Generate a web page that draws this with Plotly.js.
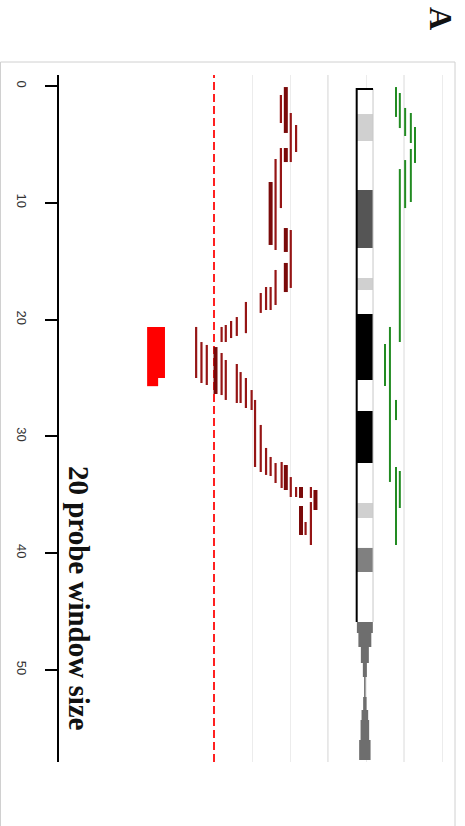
<!DOCTYPE html>
<html><head><meta charset="utf-8">
<script src="https://cdn.plot.ly/plotly-3.0.1.min.js"></script>
<style>html,body{margin:0;padding:0;background:#fff;}#chart{width:465px;height:826px;}</style>
</head><body><div id="chart"></div>
<script>
// ---- data ----
const yTicks = [0, 10, 20, 30, 40, 50];
const ratioGrid = [1, 2, 3, 4, 5, 6];

// dark red segments (thin)
const segThinX     = [1.76, 2.02, 2.16, 1.76, 1.62, 2.02, 1.62, 1.49, 1.37, 1.23, 0.84, 0.60, 0.45, 0.31, 0.20,
                      -0.47, -0.33, -0.19, 0.20, 0.31, 0.60, 0.70, 0.84, 0.99, 1.08, 1.23, 1.37, 1.49, 1.62, 1.78, 2.02, 2.16, 2.41, 2.55, 2.55];
const segThinStart = [0.77, 2.31, 3.34, 5.31, 6.25, 12.33, 15.75, 17.21, 17.21, 17.72, 18.49, 19.78, 20.12, 20.46, 20.63,
                      20.63, 21.92, 22.17, 22.86, 23.46, 23.80, 24.49, 25.00, 26.03, 26.88, 29.02, 30.99, 31.76, 32.28, 32.19, 33.48, 34.33, 37.33, 34.33, 35.62];
const segThinEnd   = [3.17, 6.51, 5.65, 10.45, 14.04, 17.29, 18.75, 19.18, 19.18, 19.43, 21.16, 21.40, 21.58, 21.92, 21.92,
                      25.00, 25.43, 25.60, 26.46, 26.88, 27.14, 27.14, 27.57, 27.74, 32.62, 33.05, 33.30, 33.39, 33.99, 34.42, 35.19, 35.19, 38.44, 35.27, 39.30];
// dark red segments (dense / thick)
const segThickX     = [1.89, 1.89, 1.49, 1.89, 1.89, 0.04, 1.89, 2.29, 2.29, 2.67];
const segThickStart = [0.09, 5.31, 8.22, 12.16, 15.15, 22.35, 32.45, 34.33, 35.96, 34.59];
const segThickEnd   = [4.02, 6.51, 13.61, 14.21, 17.64, 26.37, 34.59, 35.27, 38.44, 36.30];
// green segments
const greenX     = [4.79, 4.89, 5.03, 5.18, 5.29, 5.18, 5.03, 4.89, 4.63, 4.50, 4.79, 4.79, 4.89];
const greenStart = [0.09, 0.60, 1.88, 2.31, 3.51, 5.39, 6.34, 7.11, 20.63, 22.09, 26.88, 32.62, 32.96];
const greenEnd   = [2.65, 3.60, 4.28, 4.88, 6.59, 9.93, 10.45, 21.92, 33.90, 25.68, 28.60, 39.30, 36.13];
// ideogram bands
const bandStart = [0.26, 2.40, 4.71, 8.90, 13.87, 16.44, 17.47, 19.52, 25.17, 27.83, 32.28, 35.70, 36.99, 39.55, 41.61];
const bandEnd   = [2.40, 4.71, 8.90, 13.87, 16.44, 17.47, 19.52, 25.17, 27.83, 32.28, 35.70, 36.99, 39.55, 41.61, 45.89];
const bandStain = ['gneg','gpos25','gneg','gpos75','gneg','gpos25','gneg','gpos100','gneg','gpos100','gneg','gpos25','gneg','gpos50','gneg'];
const stalkPos  = [45.89, 46.83, 48.03, 49.40, 50.60, 52.31, 53.42, 54.28, 55.99, 57.71];
const stalkHalf = [0.21, 0.17, 0.105, 0.053, 0.02, 0.045, 0.087, 0.113, 0.15];
// peak region (20 probe window)
const peakStart = [20.63, 25.00];
const peakEnd   = [25.00, 25.70];
const peakScore = [0.47, 0.29];

// ---- styles ----
const stainColor = {gneg:'#ffffff', gpos25:'#d0d0d0', gpos50:'#808080', gpos75:'#555555', gpos100:'#000000'};
const chromX = 3.97, chromW = 0.43, peakBase = -1.76;

function segs(xs, s, e) {
  const X = [], Y = [];
  xs.forEach((x, i) => { X.push(x, x, null); Y.push(s[i], e[i], null); });
  return {x: X, y: Y};
}
const thin = segs(segThinX, segThinStart, segThinEnd);
const thick = segs(segThickX, segThickStart, segThickEnd);
const green = segs(greenX, greenStart, greenEnd);

// stalk polygon (step outline)
const sx = [], sy = [];
for (let i = 0; i < stalkHalf.length; i++) { sx.push(chromX - stalkHalf[i], chromX - stalkHalf[i]); sy.push(stalkPos[i], stalkPos[i+1]); }
for (let i = stalkHalf.length - 1; i >= 0; i--) { sx.push(chromX + stalkHalf[i], chromX + stalkHalf[i]); sy.push(stalkPos[i+1], stalkPos[i]); }

const pTop = bandStart[0], pBot = bandEnd[bandEnd.length - 1];

const traces = [
  {type:'bar', orientation:'v', x: bandStart.map(() => chromX), base: bandStart,
   y: bandStart.map((s, i) => bandEnd[i] - s), width: chromW,
   marker:{color: bandStain.map(s => stainColor[s]), line:{width:0}}, hoverinfo:'skip'},
  {type:'scatter', mode:'lines', x: sx, y: sy, fill:'toself', fillcolor:'#6e6e6e', line:{width:0}, hoverinfo:'skip'},
  {type:'scatter', mode:'lines', x:[chromX + chromW/2, chromX + chromW/2], y:[pTop, pBot], line:{color:'#c8c8c8', width:1}, hoverinfo:'skip'},
  {type:'scatter', mode:'lines', x:[chromX - chromW/2, chromX - chromW/2, chromX + chromW/2], y:[pBot, pTop, pTop], line:{color:'#000', width:2}, hoverinfo:'skip'},
  {type:'bar', orientation:'h', y: peakStart.map((s, i) => (s + peakEnd[i]) / 2), width: peakStart.map((s, i) => peakEnd[i] - s),
   x: peakScore, base: peakBase, marker:{color:'#ff0000', line:{width:0}}, hoverinfo:'skip'},
  {type:'scatter', mode:'lines', x: thin.x, y: thin.y, line:{color:'#951515', width:2.2}, connectgaps:false, hoverinfo:'skip'},
  {type:'scatter', mode:'lines', x: thick.x, y: thick.y, line:{color:'#7a0a0a', width:4}, connectgaps:false, hoverinfo:'skip'},
  {type:'scatter', mode:'lines', x: green.x, y: green.y, line:{color:'#228b22', width:2}, connectgaps:false, hoverinfo:'skip'}
];

const layout = {
  width: 465, height: 826,
  margin: {l:59, r:10, t:75, b:64},
  paper_bgcolor:'#fff', plot_bgcolor:'#fff',
  showlegend:false, barmode:'overlay', hovermode:false,
  xaxis: {range:[-4.0789, 6.3421], tickvals: ratioGrid, showticklabels:false, ticks:'',
          showgrid:true, gridcolor:'#ececec', gridwidth:1, zeroline:false, showline:false, fixedrange:true},
  yaxis: {range:[57.877, -0.942], tickvals: yTicks, ticktext: yTicks.map(String),
          showline:true, linecolor:'#000', linewidth:2, ticks:'outside', ticklen:12, tickwidth:2, tickcolor:'#000',
          tickangle:90, ticklabelstandoff:12,
          tickfont:{family:'Liberation Sans, Arial, sans-serif', size:13, color:'#333'},
          showgrid:false, zeroline:false, fixedrange:true},
  shapes: [
    {type:'line', xref:'x', yref:'paper', x0:3, x1:3, y0:0, y1:1, line:{color:'#cfcfcf', width:1}, layer:'between'},
    {type:'line', xref:'x', yref:'paper', x0:5, x1:5, y0:0, y1:1, line:{color:'#dadada', width:1}, layer:'between'},
    {type:'line', xref:'x', yref:'paper', x0:0, x1:0, y0:0, y1:1, line:{color:'#ff2020', width:2, dash:'8px,4px'}, layer:'between'},
    {type:'rect', xref:'paper', yref:'paper', x0:-0.1477, x1:1.0, y0:-0.11, y1:1.0189, line:{color:'#d0d0d0', width:1}, fillcolor:'rgba(0,0,0,0)', layer:'below'}
  ],
  annotations: [
    {text:'<b>20 probe window size</b>', xref:'paper', yref:'paper', x:0.0505, y:0.2373, textangle:90,
     showarrow:false, xanchor:'center', yanchor:'middle',
     font:{family:'Liberation Serif, Times New Roman, serif', size:29, color:'#111'}},
    {text:'<b>A</b>', xref:'paper', yref:'paper', x:0.9646, y:1.0815, textangle:90,
     showarrow:false, xanchor:'center', yanchor:'middle',
     font:{family:'Liberation Serif, Times New Roman, serif', size:32, color:'#111'}}
  ]
};

Plotly.newPlot('chart', traces, layout, {staticPlot:true, displayModeBar:false});
</script>
</body></html>
